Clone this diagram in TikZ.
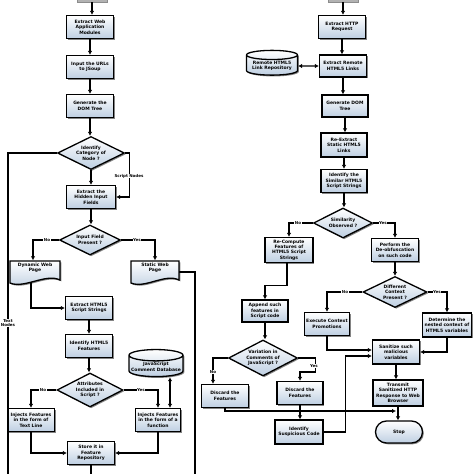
\documentclass[tikz,border=0pt]{standalone}
\usepackage{fontspec}
\setmainfont{DejaVu Sans}
\usetikzlibrary{shapes.geometric,arrows.meta,shadows}
\definecolor{boxblue}{RGB}{190,207,226}

% page shaped box with wavy bottom, centre x, top y, half width
\newcommand{\pagedoc}[3]{%
    \draw[line width=1.3pt, top color=white, bottom color=boxblue, drop shadow={shadow xshift=1.3pt, shadow yshift=-1.3pt, fill=black!60, opacity=0.8}]
        (#1-#3,#2) -- (#1+#3,#2) -- (#1+#3,#2+19)
        .. controls (#1+#3-14,#2+12) and (#1-#3+14,#2+28) .. (#1-#3,#2+22) -- cycle;}

\begin{document}
\begin{tikzpicture}[
        x=1pt, y=-1pt,
        every node/.style={font=\fontsize{4.5}{5.4}\selectfont\bfseries, align=center, inner sep=1pt},
        shadowed/.style={drop shadow={shadow xshift=1.3pt, shadow yshift=-1.3pt, fill=black!60, opacity=0.8}},
        proc/.style={draw, line width=1.3pt, top color=white, bottom color=boxblue, shadowed, minimum width=#1, minimum height=23pt},
        proc/.default=47pt,
        decision/.style={diamond, draw, line width=1.3pt, top color=white, bottom color=boxblue, inner sep=0pt, aspect=2, shadowed},
        dbase/.style={cylinder, shape border rotate=90, aspect=0.22, draw, line width=1.3pt, top color=white, bottom color=boxblue, shadowed},
        terminal/.style={draw, line width=1.3pt, rounded corners=11pt, top color=white, bottom color=boxblue, shadowed, minimum width=47pt, minimum height=22pt},
        startbox/.style={draw=black!45, fill=black!30, minimum width=30pt, minimum height=20pt},
        wire/.style={line width=1.3pt},
        arrow/.style={line width=1.3pt, -{Latex[length=4pt,width=4.5pt]}},
        dbarrow/.style={line width=1.3pt, {Latex[length=4pt,width=4.5pt]}-{Latex[length=4pt,width=4.5pt]}},
        lbl/.style={fill=white, inner sep=0.5pt, font=\fontsize{4}{4.8}\selectfont\bfseries},
    ]
    \fill[white] (0,0) rectangle (474,474);
    \useasboundingbox (0,0) rectangle (474,474);
    \clip (0,0) rectangle (474,474);

    % left flow
    \node[startbox] (lstart) at (92,-8) {};
    \node[proc] (webmod) at (90,27) {Extract Web\\Application\\Modules};
    \node[proc] (urls) at (90,67) {Input the URLs\\to JSoup};
    \node[proc] (ldom) at (90,106) {Generate the\\DOM Tree};
    \node[decision, minimum width=67pt, minimum height=33pt] (category) at (91,153) {Identify\\Category of\\Node ?};
    \node[proc=49pt] (hidden) at (91,197) {Extract the\\Hidden Input\\Fields};
    \node[decision, minimum width=61pt, minimum height=30pt] (field) at (90,240) {Input Field\\Present ?};
    \pagedoc{35}{261}{25}
    \pagedoc{155}{261}{24}
    \node[minimum width=50pt, minimum height=15pt] (dynpage) at (35,268) {Dynamic Web\\Page};
    \node[minimum width=48pt, minimum height=15pt] (statpage) at (155,268) {Static Web\\Page};
    \node[proc] (scriptstr) at (89,308) {Extract HTML5\\Script Strings};
    \node[proc] (features) at (89,346) {Identify HTML5\\Features};
    \node[decision, minimum width=66pt, minimum height=34pt] (attrib) at (90,390) {Attributes\\Included in\\Script ?};
    \node[dbase, minimum width=54pt, minimum height=25pt] (jsdb) at (156,367) {JavaScript\\Comment Database};
    \node[proc] (textline) at (31,420) {Injects Features\\in the form of\\Text Line};
    \node[proc=45pt] (funcform) at (158,420) {Injects Features\\in the form of a\\function};
    \node[proc] (repo) at (91,453) {Store it in\\Feature\\Repository};

    % right flow
    \node[startbox] (rstart) at (343,-8) {};
    \node[proc] (http) at (342,27) {Extract HTTP\\Request};
    \node[proc, minimum height=22pt] (remote) at (343,66) {Extract Remote\\HTML5 Links};
    \node[dbase, minimum width=51pt, minimum height=23pt] (linkrepo) at (272,66) {Remote HTML5\\Link Repository};
    \node[proc=46pt, minimum height=22pt] (rdom) at (345,106) {Generate DOM\\Tree};
    \node[proc=46pt, minimum height=24pt] (reextract) at (344,145) {Re-Extract\\Static HTML5\\Links};
    \node[proc=46pt] (similar) at (344,181) {Identify the\\Similar HTML5\\Script Strings};
    \node[decision, minimum width=59pt, minimum height=30pt] (similarity) at (343,223) {Similarity\\Observed ?};
    \node[proc=48pt, minimum height=25pt] (recompute) at (289,250) {Re-Compute\\Features of\\HTML5 Script\\Strings};
    \node[proc] (deobf) at (395,250) {Perform the\\De-obfuscation\\on such code};
    \node[decision, minimum width=64pt, minimum height=31pt] (context) at (395,292) {Different\\Context\\Present ?};
    \node[proc=45pt] (promote) at (327,324) {Execute Context\\Promotions};
    \node[proc=49pt, minimum height=24pt] (nested) at (447,325) {Determine the\\nested context of\\HTML5 variables};
    \node[proc=46pt, minimum height=22pt] (append) at (265,311) {Append such\\features in\\Script code};
    \node[decision, minimum width=69pt, minimum height=36pt] (variation) at (263,358) {Variation in\\Comments of\\JavaScript ?};
    \node[proc] (discardl) at (225,396) {Discard the\\Features};
    \node[proc=46pt] (discardr) at (300,393) {Discard the\\Features};
    \node[proc=48pt, minimum height=24pt] (suspicious) at (299,432) {Identify\\Suspicious Code};
    \node[proc, minimum height=24pt] (sanitize) at (396,352) {Sanitize such\\malicious\\variables};
    \node[proc=50pt, minimum height=26pt] (transmit) at (398,393) {Transmit\\Sanitized HTTP\\Response to Web\\Browser};
    \node[terminal] (stop) at (399,432) {Stop};

    \coordinate (textnodes) at (8,476);
    \coordinate (staticend) at (195,476);
    \coordinate (repofoot) at (91,476);
    \coordinate (dynfoot) at (31,282);
    \coordinate (join) at (396,411);

    % straight runs
    \foreach \a/\b in {lstart/webmod, webmod/urls, urls/ldom, ldom/category, category/hidden,
        hidden/field, scriptstr/features, features/attrib, rstart/http, http/remote,
        remote/rdom, rdom/reextract, reextract/similar, similar/similarity, deobf/context,
        sanitize/transmit, transmit/stop, append/variation, discardr/suspicious}
        \draw[arrow] (\a.south) -- (\a.south |- \b.north);

    \draw[wire] (category.west) -| (textnodes);
    \draw[arrow] (category.east) -- ++(4,0) |- (hidden.east);
    \draw[arrow] (field.west) -| ([xshift=-2pt]dynpage.north);
    \draw[arrow] (field.east) -| (statpage.north);
    \draw[arrow] (dynfoot) |- (scriptstr.west);
    \draw[wire] ([yshift=-4pt]statpage.east) -| (staticend);
    \draw[arrow] (attrib.west) -| (textline.north);
    \draw[arrow] (attrib.east) -| (funcform.north);
    \draw[dbarrow] ([xshift=12pt]funcform.north) -- ([xshift=12pt]funcform.north |- jsdb.south);
    \draw[arrow] (textline.south) |- (repo.west);
    \draw[arrow] (funcform.south) |- (repo.east);
    \draw[wire] (repo.south) -- (repofoot);

    \draw[dbarrow] (linkrepo.east) -- (remote.west);
    \draw[arrow] (similarity.west) -| (recompute.north);
    \draw[arrow] (similarity.east) -| (deobf.north);
    \draw[arrow] ([xshift=-2pt]recompute.south) -- ++(0,22) -| (append.north);
    \draw[arrow] (context.west) -| (promote.north);
    \draw[arrow] (context.east) -| (nested.north);
    \draw[arrow] (promote.south) |- ([yshift=2pt]sanitize.west);
    \draw[arrow] (nested.south) |- (sanitize.east);
    \draw[arrow] (variation.west) -| ([xshift=-12pt]discardl.north);
    \draw[arrow] (variation.east) -- ++(17,0) -- ++(0,14) -| (discardr.north);
    \draw[arrow] (discardl.south) |- (join);
    \draw[arrow] (suspicious.east) -- ++(22,0) |- ([yshift=-4pt]sanitize.west);

    % branch labels
    \node[lbl] (lbtext) at (8,323) {Text\\Nodes};
    \node[lbl] (lbscript) at (129,176) {Script Nodes};
    \node[lbl] (lbno1) at (47,240) {No};
    \node[lbl] (lbyes1) at (137,240) {Yes};
    \node[lbl] (lbno2) at (43,390) {No};
    \node[lbl] (lbyes2) at (141,390) {Yes};
    \node[lbl] (lbno3) at (298,223) {No};
    \node[lbl] (lbyes3) at (383,223) {Yes};
    \node[lbl] (lbno4) at (345,292) {No};
    \node[lbl] (lbyes4) at (437,292) {Yes};
    \node[lbl] (lbno5) at (213,372) {No};
    \node[lbl] (lbyes5) at (314,366) {Yes};
\end{tikzpicture}
\end{document}
